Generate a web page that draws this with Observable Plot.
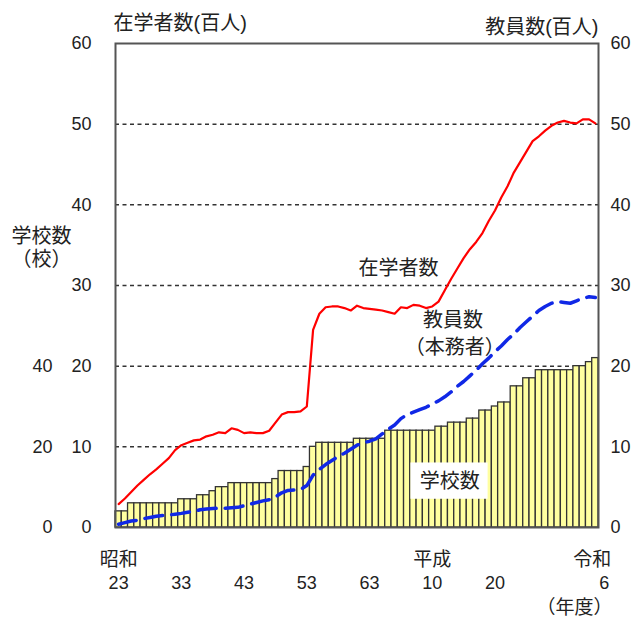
<!DOCTYPE html>
<html><head><meta charset="utf-8">
<script src="https://cdn.jsdelivr.net/npm/d3@7"></script>
<script src="https://cdn.jsdelivr.net/npm/@observablehq/plot@0.6"></script>
<style>body{margin:0;background:#fff;} #chart svg{display:block;}</style>
</head><body><div id="chart"></div>
<script>
// 年度（昭和23〜令和6）
const years = d3.range(1948, 2025);
// 学校数（校）
const schools = [4,4,6,6,6,6,6,6,6,6,
  7,7,7,8,8,9,10,10,11,11,
  11,11,11,11,11,12,14,14,14,14,
  15,20,21,21,21,21,21,21,22,22,
  22,22,22,24,24,24,24,24,24,24,
  24,25,25,26,26,26,27,27,29,29,
  30,31,31,35,35,37,37,39,39,39,
  39,39,39,40,40,41,42];
// 在学者数（百人）
const students = [2.9,3.6,4.4,5.2,5.9,6.6,7.2,7.9,8.6,9.6,
  10.2,10.5,10.8,10.9,11.3,11.5,11.8,11.7,12.3,12.1,
  11.7,11.8,11.7,11.7,12.0,13.0,14.0,14.3,14.3,14.4,
  15.0,24.5,26.5,27.3,27.4,27.4,27.2,26.9,27.5,27.2,
  27.1,27.0,26.9,26.7,26.5,27.3,27.2,27.6,27.5,27.2,
  27.4,28.0,29.4,30.8,32.1,33.4,34.5,35.4,36.5,38.0,
  39.3,40.9,42.3,44.0,45.3,46.6,47.9,48.5,49.2,49.8,
  50.2,50.4,50.2,50.1,50.6,50.6,50.1];
// 教員数（本務者・百人）
const teachers = [0.4,0.6,0.8,0.9,1.1,1.25,1.4,1.5,1.55,1.65,
  1.75,1.9,2.0,2.2,2.3,2.35,2.4,2.4,2.45,2.5,
  2.7,2.9,3.1,3.3,3.45,3.8,4.3,4.6,4.65,4.7,
  5.2,6.5,7.2,7.8,8.3,8.8,9.2,9.7,10.2,10.5,
  10.7,11.0,11.6,12.2,12.7,13.5,14.0,14.3,14.6,14.9,
  15.3,15.7,16.2,16.8,17.5,18.1,18.8,19.5,20.3,21.0,
  21.8,22.5,23.3,24.0,24.8,25.5,26.2,26.9,27.4,27.8,
  28.0,27.9,27.8,28.1,28.4,28.6,28.5];

const valueTicks = [0,10,20,30,40,50,60];
const gridValues = [10,20,30,40,50];
const schoolTicks = [0,20,40];
const eraTicks = [{year:1948, label:"昭和"}, {year:1998, label:"平成"}];
const eraLast = [{year:2024, label:"令和"}];
const yearTicks = [{year:1948,label:"23"},{year:1958,label:"33"},{year:1968,label:"43"},
  {year:1978,label:"53"},{year:1988,label:"63"},{year:1998,label:"10"},{year:2008,label:"20"}];
const yearLast = [{year:2024, label:"6"}];
const seriesLabels = [
  {year:1992.6, value:32.1, label:"在学者数"},
  {year:2001.3, value:25.6, label:"教員数"},
  {year:2001.6, value:22.3, label:"（本務者）"},
  {year:2000.8, value:5.65, label:"学校数"}
];
const labelBoxes = [{x1:1994.6, x2:2006.9, y1:3.5, y2:8.0}];
const schoolAxisTitle = [{value:36.1, label:"学校数"},{value:33.2, label:"（校）"}];

const data = years.map((y,i)=>({year:y, schools:schools[i], students:students[i], teachers:teachers[i]}));

const FONT = "'Liberation Sans', 'Noto Sans CJK JP', Arial, sans-serif";
const ink = "#222";

const chart = Plot.plot({
  width: 637, height: 619,
  marginTop: 43, marginBottom: 92, marginLeft: 115, marginRight: 39,
  style: {fontFamily: FONT, fontSize: "18px", color: ink, background: "#fff"},
  x: {domain: [1947.5, 2024.5], axis: null},
  y: {domain: [0, 60], axis: null},
  marks: [
    Plot.ruleY(gridValues, {stroke:"#333", strokeWidth:1.5, strokeDasharray:"4,3.5"}),
    Plot.rectY(data, {x1: d=>d.year-0.5, x2: d=>d.year+0.5, y: d=>d.schools/2,
      fill:"#ffffa0", stroke:"#333", strokeWidth:1.3}),
    Plot.rect(labelBoxes, {x1:"x1", x2:"x2", y1:"y1", y2:"y2", fill:"white"}),
    Plot.line(data, {x:"year", y:"students", stroke:"#f00", strokeWidth:2.2}),
    Plot.line(data, {x:"year", y:"teachers", stroke:"#1028e6", strokeWidth:3.5, strokeDasharray:"18,9"}),
    Plot.frame({stroke:"#555", strokeWidth:2}),
    Plot.axisY(valueTicks, {anchor:"left", tickSize:0, tickPadding:24, label:null, fill:ink}),
    Plot.axisY(schoolTicks.map(v=>v/2), {anchor:"left", tickSize:0, tickPadding:63, label:null, tickFormat:d=>String(d*2), fill:ink}),
    Plot.axisY(valueTicks, {anchor:"right", tickSize:0, tickPadding:12, label:null, fill:ink}),
    Plot.text(["在学者数(百人)"], {frameAnchor:"top-left", textAnchor:"start", lineAnchor:"middle", dy:-20, dx:-2, fontSize:20, fill:ink}),
    Plot.text(["教員数(百人)"], {frameAnchor:"top-right", textAnchor:"end", lineAnchor:"middle", dy:-16, dx:0, fontSize:20, fill:ink}),
    Plot.text(schoolAxisTitle, {y:"value", text:"label", frameAnchor:"left", textAnchor:"middle", lineAnchor:"middle", dx:-74, fontSize:20, fill:ink}),
    Plot.text(seriesLabels, {x:"year", y:"value", text:"label", fontSize:20, fill:ink}),
    Plot.text(eraTicks, {x:"year", text:"label", frameAnchor:"bottom", lineAnchor:"middle", dy:32.5, fontSize:19, fill:ink}),
    Plot.text(eraLast, {x:"year", text:"label", frameAnchor:"bottom", lineAnchor:"middle", dy:32.5, dx:16, textAnchor:"end", fontSize:19, fill:ink}),
    Plot.text(yearTicks, {x:"year", text:"label", frameAnchor:"bottom", lineAnchor:"middle", dy:55.5, fontSize:18, fill:ink}),
    Plot.text(yearLast, {x:"year", text:"label", frameAnchor:"bottom", lineAnchor:"middle", dy:55.5, dx:14, textAnchor:"end", fontSize:18, fill:ink}),
    Plot.text(["（年度）"], {frameAnchor:"bottom-right", textAnchor:"end", lineAnchor:"middle", dy:80, dx:14, fontSize:19, fill:ink})
  ]
});
document.getElementById("chart").appendChild(chart);
</script>
</body></html>
